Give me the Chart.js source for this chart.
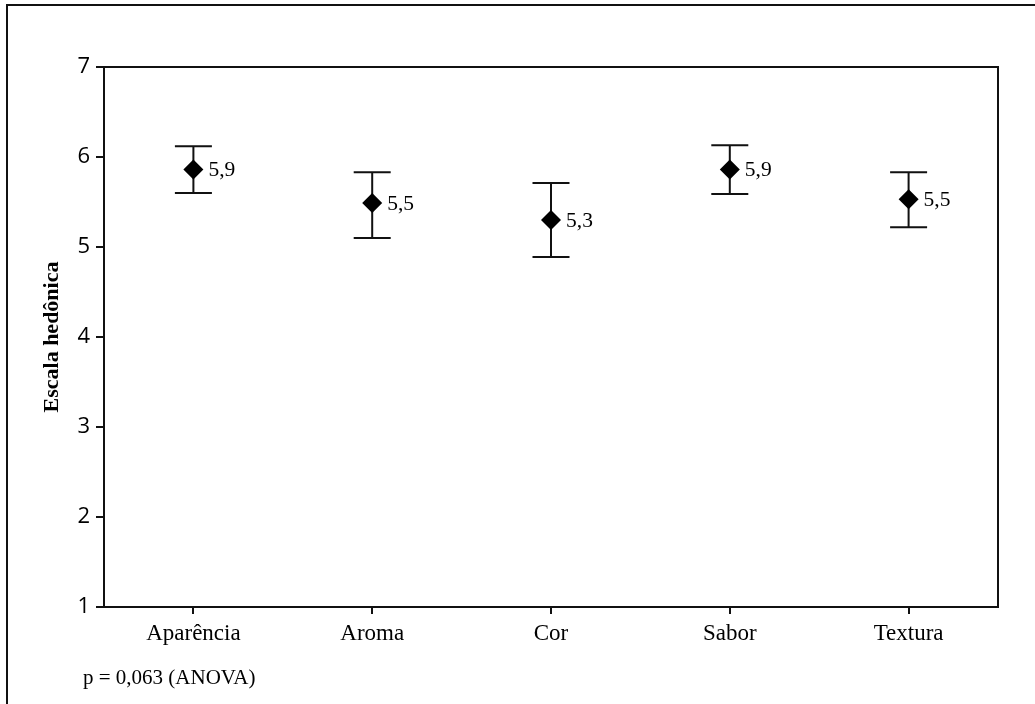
<!DOCTYPE html>
<html>
<head>
<meta charset="utf-8">
<script src="https://cdn.jsdelivr.net/npm/chart.js@4/dist/chart.umd.min.js"></script>
<style>
  html, body { margin: 0; padding: 0; background: #fff; }
  #wrap { width: 1035px; height: 704px; }
</style>
</head>
<body>
<div id="wrap"><canvas id="c" width="1035" height="704"></canvas></div>
<script>
// Mean hedonic score per attribute with interval limits
const categories = ['Aparência', 'Aroma', 'Cor', 'Sabor', 'Textura'];
const means = [5.86, 5.49, 5.30, 5.86, 5.53];
const upper = [6.12, 5.83, 5.71, 6.13, 5.83];
const lower = [5.60, 5.10, 4.89, 5.59, 5.22];
const yTicks = [1, 2, 3, 4, 5, 6, 7];
const note = 'p = 0,063 (ANOVA)';

const INK = '#111';
const SERIF = '"Liberation Serif", "Times New Roman", serif';
const SANS = '"Open Sans", "Liberation Sans", sans-serif';

const fmt = v => v.toFixed(1).replace('.', ',');

// White page, outer frame, plot frame
const framePlugin = {
  id: 'frame',
  beforeDraw(chart) {
    const ctx = chart.ctx;
    ctx.save();
    ctx.fillStyle = '#fff';
    ctx.fillRect(0, 0, chart.width, chart.height);
    ctx.strokeStyle = INK;
    ctx.lineWidth = 2;
    ctx.strokeRect(7, 5, chart.width + 20, chart.height + 20);
    ctx.restore();
  },
  afterDraw(chart) {
    const {ctx, chartArea: a} = chart;
    ctx.save();
    ctx.strokeStyle = INK;
    ctx.lineWidth = 2;
    ctx.beginPath();
    ctx.moveTo(a.left, a.top);
    ctx.lineTo(a.right, a.top);
    ctx.lineTo(a.right, a.bottom);
    ctx.stroke();
    ctx.fillStyle = '#000';
    ctx.font = '21px ' + SERIF;
    ctx.textAlign = 'left';
    ctx.textBaseline = 'middle';
    ctx.fillText(note, 83, 678);
    ctx.restore();
  }
};

// Interval whiskers and value labels
const errorPlugin = {
  id: 'errorBars',
  beforeDatasetsDraw(chart) {
    const {ctx, scales: {x, y}} = chart;
    ctx.save();
    ctx.strokeStyle = INK;
    ctx.lineWidth = 2;
    categories.forEach((c, i) => {
      const px = x.getPixelForValue(i);
      const yt = y.getPixelForValue(upper[i]);
      const yb = y.getPixelForValue(lower[i]);
      const cap = 18.5;
      ctx.beginPath();
      ctx.moveTo(px, yt); ctx.lineTo(px, yb);
      ctx.moveTo(px - cap, yt); ctx.lineTo(px + cap, yt);
      ctx.moveTo(px - cap, yb); ctx.lineTo(px + cap, yb);
      ctx.stroke();
    });
    ctx.restore();
  },
  afterDatasetsDraw(chart) {
    const {ctx, scales: {x, y}} = chart;
    ctx.save();
    ctx.fillStyle = '#000';
    ctx.font = '21.5px ' + SERIF;
    ctx.textAlign = 'left';
    ctx.textBaseline = 'middle';
    means.forEach((m, i) => {
      ctx.fillText(fmt(m), x.getPixelForValue(i) + 15, y.getPixelForValue(m) + 1);
    });
    ctx.restore();
  }
};

new Chart(document.getElementById('c'), {
  type: 'line',
  data: {
    labels: categories,
    datasets: [{
      data: means,
      showLine: false,
      pointStyle: 'rectRot',
      pointRadius: 10,
      pointHoverRadius: 10,
      pointBackgroundColor: '#000',
      pointBorderColor: '#000',
      pointBorderWidth: 0
    }]
  },
  options: {
    responsive: false,
    animation: false,
    events: [],
    layout: { padding: { top: 67, right: 37, bottom: 0, left: 0 } },
    plugins: { legend: { display: false }, tooltip: { enabled: false } },
    scales: {
      x: {
        offset: true,
        grid: { offset: false, drawOnChartArea: false, drawTicks: true, tickLength: 7, color: INK, lineWidth: 2 },
        border: { display: true, color: INK, width: 2 },
        ticks: { color: '#000', padding: 6, font: { family: SERIF, size: 23 } },
        afterFit(s) { s.height = 97; }
      },
      y: {
        min: 1, max: 7,
        afterBuildTicks(s) { s.ticks = yTicks.map(v => ({ value: v })); },
        grid: { drawOnChartArea: false, drawTicks: true, tickLength: 8, color: INK, lineWidth: 2 },
        border: { display: true, color: INK, width: 2 },
        ticks: { color: '#000', padding: 6, font: { family: SANS, size: 22 } },
        title: {
          display: true,
          text: 'Escala hedônica',
          color: '#000',
          padding: { top: 39, bottom: 0 },
          font: { family: SERIF, size: 22, weight: 'bold' }
        },
        afterFit(s) { s.width = 104; }
      }
    }
  },
  plugins: [framePlugin, errorPlugin]
});
</script>
</body>
</html>
